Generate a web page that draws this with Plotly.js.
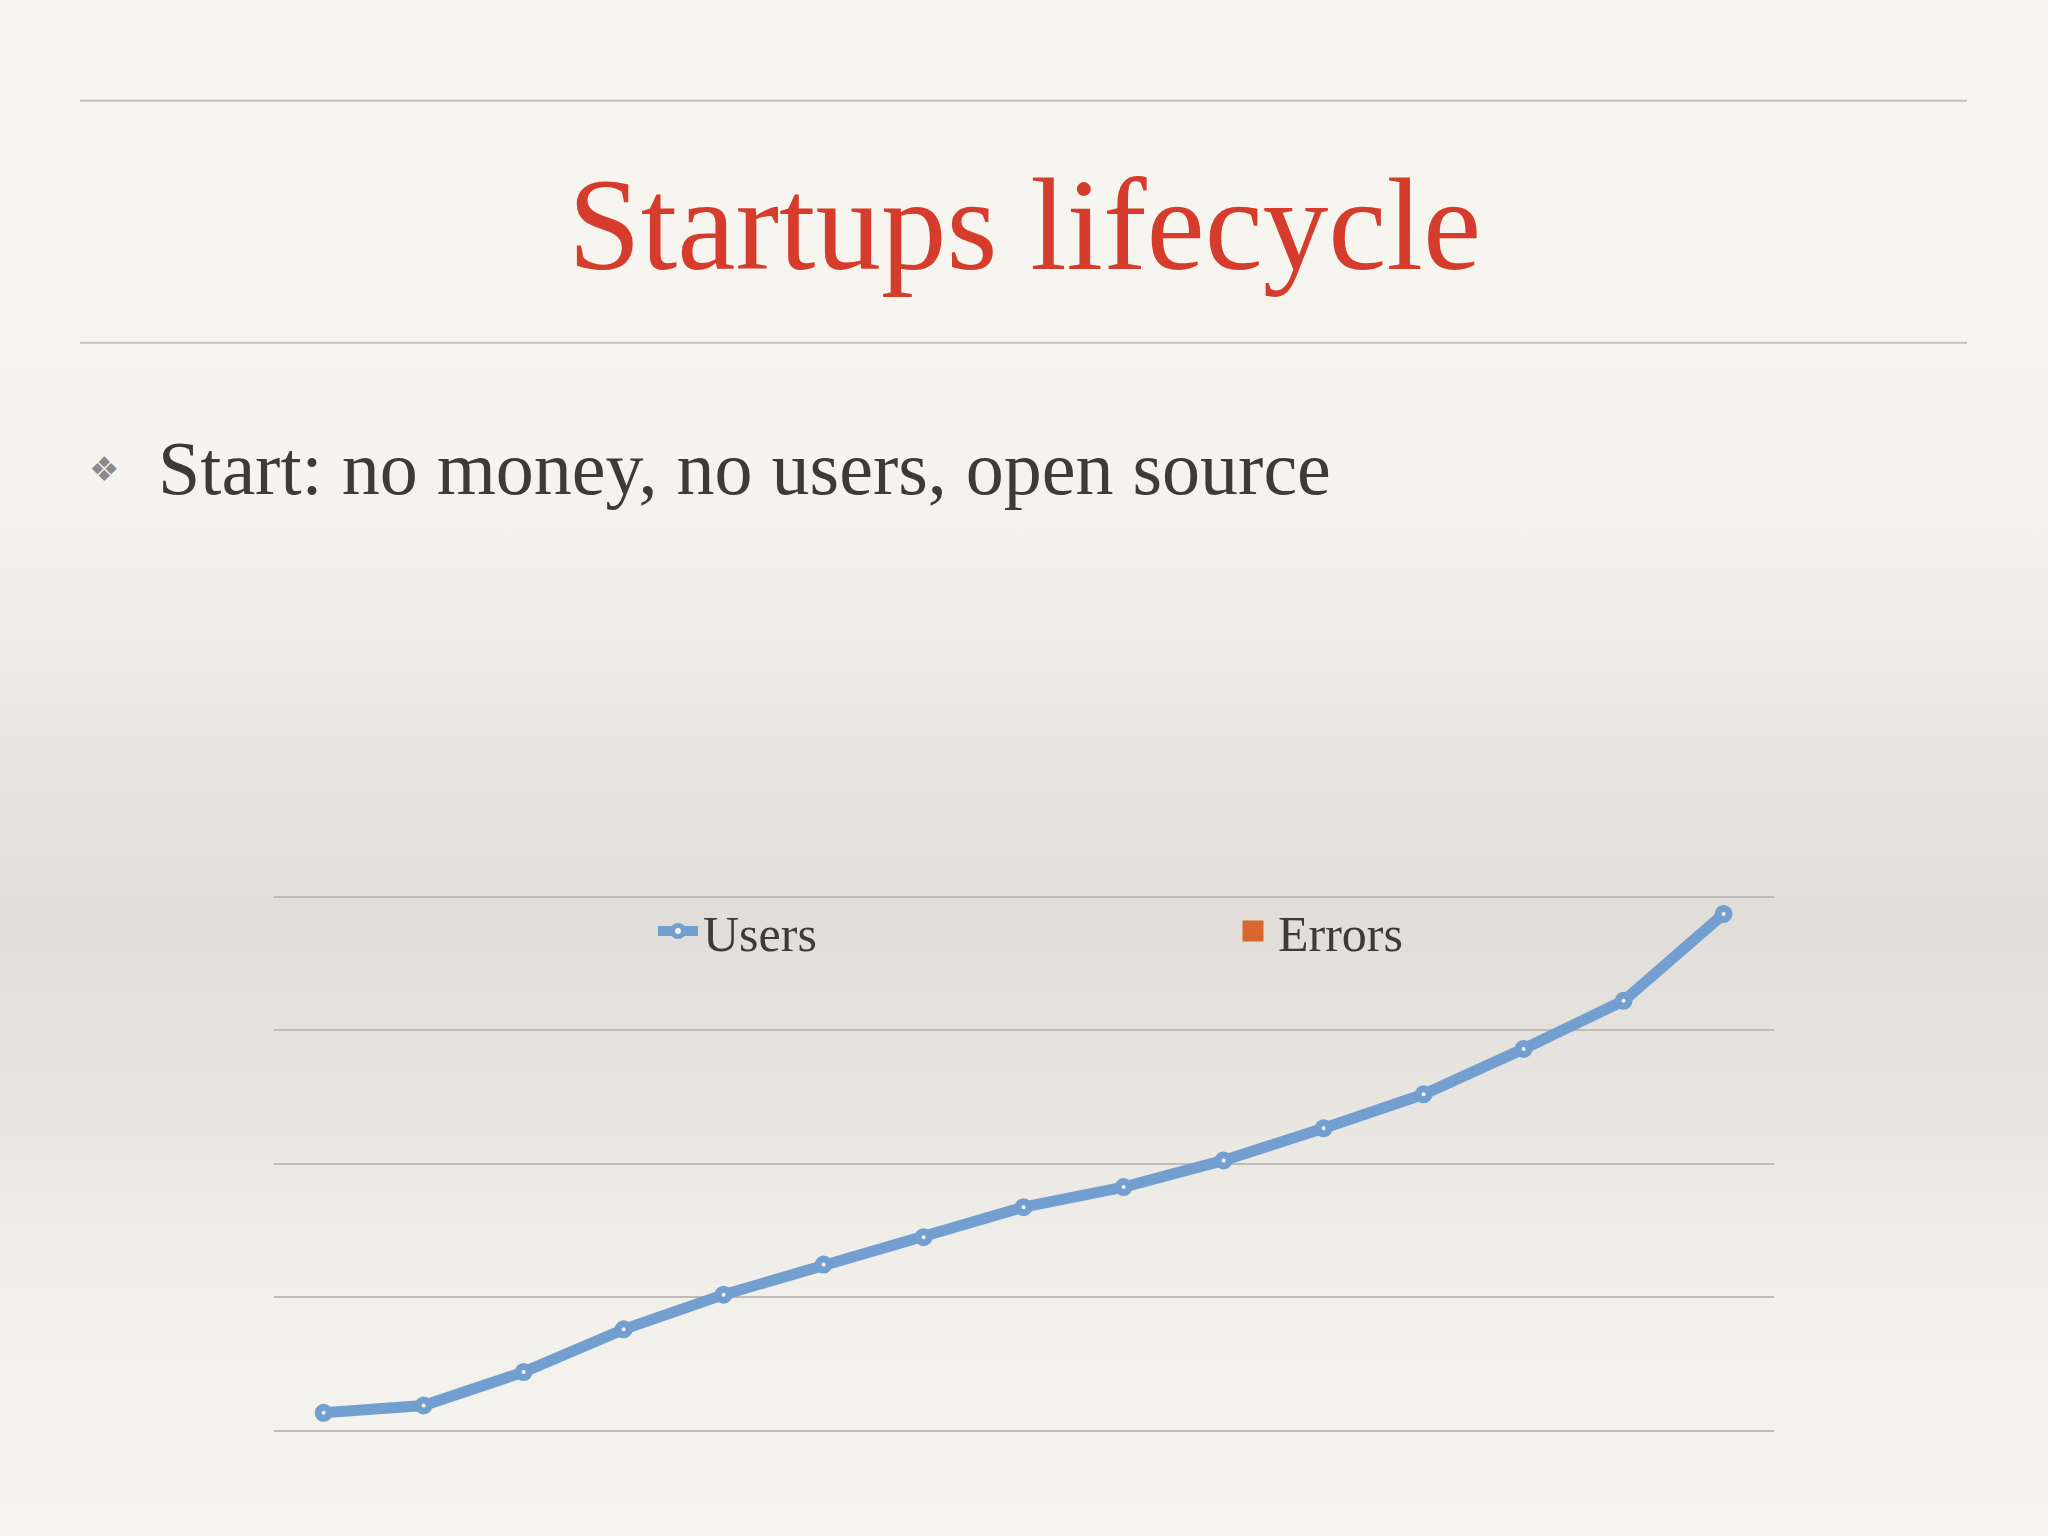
<!DOCTYPE html>
<html>
<head>
<meta charset="utf-8">
<script src="https://cdn.plot.ly/plotly-3.0.1.min.js"></script>
<style>
  html, body { margin: 0; padding: 0; }
  body {
    width: 2048px; height: 1536px; overflow: hidden;
    background: linear-gradient(to bottom,
      #f7f5ef 0%, #f6f4ef 30%, #efece8 42%, #e5e2de 54%, #e1deda 60%,
      #e7e4e0 70%, #f1efea 83%, #f7f5ef 100%);
  }
  #chart { width: 2048px; height: 1536px; }
</style>
</head>
<body>
<div id="chart"></div>
<script>
// ---- data ----
const periods = ["1","2","3","4","5","6","7","8","9","10","11","12","13","14","15"];
const usersValues = [2.7, 3.8, 8.8, 15.2, 20.4, 24.9, 29.0, 33.5, 36.5, 40.5, 45.3, 50.4, 57.2, 64.4, 77.4];
const errorsValues = [null, null, null, null, null, null, null, null, null, null, null, null, null, null, null];
const seriesNames = ["Users", "Errors"];
const gridValues = [0, 20, 40, 60, 80];
const slideTitle = "Startups lifecycle";
const bulletText = "Start: no money, no users, open source";

const W = 2048, H = 1536;
const px = v => v / W;
const py = v => 1 - v / H;

const traces = [
  {
    type: "scatter", mode: "lines+markers", name: seriesNames[0],
    x: periods, y: usersValues,
    line: { color: "#729fcf", width: 11 },
    marker: { symbol: "circle", size: 11, color: "#f4f5f6", line: { color: "#729fcf", width: 7 } },
    cliponaxis: false
  },
  {
    type: "scatter", mode: "markers", name: seriesNames[1],
    x: periods, y: errorsValues,
    marker: { symbol: "square", size: 38, color: "#d9652f", line: { color: "#d9652f", width: 5 } },
    showlegend: true
  }
];

const layout = {
  width: W, height: H,
  margin: { l: 0, r: 0, t: 0, b: 0 },
  paper_bgcolor: "rgba(0,0,0,0)",
  plot_bgcolor: "rgba(0,0,0,0)",
  showlegend: true,
  legend: {
    orientation: "h", x: px(653), xanchor: "left", y: py(931), yanchor: "middle",
    font: { family: "Liberation Serif, serif", size: 50, color: "#3d3a38" },
    itemwidth: 40, entrywidth: 520, bgcolor: "rgba(0,0,0,0)", borderwidth: 0,
    traceorder: "normal", itemsizing: "trace"
  },
  xaxis: {
    domain: [px(273.6), px(1773.6)], type: "category", range: [-0.5, 14.5],
    showticklabels: false, showgrid: false, zeroline: false, showline: false, ticks: ""
  },
  yaxis: {
    domain: [py(1440.9), py(886.6)], range: [-1.5, 81.5], tickvals: gridValues,
    showticklabels: false, showgrid: true, gridcolor: "#bfbbb6", gridwidth: 2,
    zeroline: false, showline: false, ticks: ""
  },
  shapes: [
    { type: "line", xref: "paper", yref: "paper", x0: px(80), x1: px(1967), y0: py(100.7), y1: py(100.7), line: { color: "#c5c2bd", width: 2 } },
    { type: "line", xref: "paper", yref: "paper", x0: px(80), x1: px(1967), y0: py(342.7), y1: py(342.7), line: { color: "#c5c2bd", width: 2 } }
  ],
  annotations: [
    { text: slideTitle, xref: "paper", yref: "paper", x: 0.5, y: py(224), xanchor: "center", yanchor: "middle",
      showarrow: false, font: { family: "Liberation Serif, serif", size: 131, color: "#d63c2b" } },
    { text: "\u2756", xref: "paper", yref: "paper", x: px(104), y: py(469), xanchor: "center", yanchor: "middle",
      showarrow: false, font: { family: "DejaVu Sans, sans-serif", size: 34, color: "#8c8a88" } },
    { text: bulletText, xref: "paper", yref: "paper", x: px(156), y: py(468), xanchor: "left", yanchor: "middle",
      showarrow: false, font: { family: "Liberation Serif, serif", size: 76, color: "#3d3a38" } }
  ]
};

Plotly.newPlot("chart", traces, layout, { staticPlot: true, displayModeBar: false });
</script>
</body>
</html>
